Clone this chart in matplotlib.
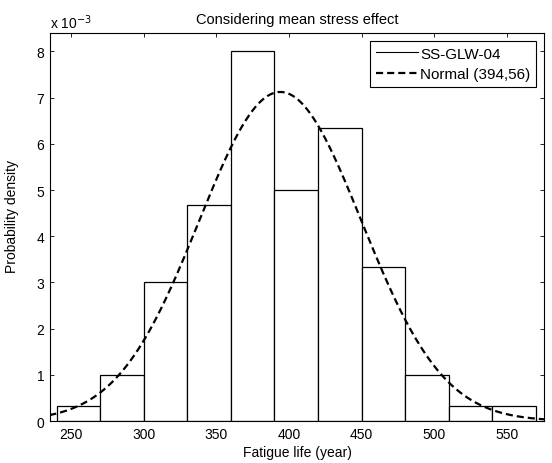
import numpy as np
import matplotlib

matplotlib.use("Agg")
import matplotlib.pyplot as plt
from matplotlib.lines import Line2D

plt.rcParams["font.family"] = ["Liberation Sans", "DejaVu Sans"]

# ---- data -------------------------------------------------------------------
bin_edges = [240, 270, 300, 330, 360, 390, 420, 450, 480, 510, 540, 570]
counts = [1, 3, 9, 14, 24, 15, 19, 10, 3, 1, 1]   # 100 samples
fit_mean = 394
fit_std = 56
x_ticks = [250, 300, 350, 400, 450, 500, 550]
y_ticks = [0, 1, 2, 3, 4, 5, 6, 7, 8]

edges = np.array(bin_edges, dtype=float)
widths = np.diff(edges)
n = sum(counts)
density = np.array(counts) / (n * widths) * 1e3   # shown in units of 1e-3

xs = np.linspace(235, 576, 400)
pdf = np.exp(-0.5 * ((xs - fit_mean) / fit_std) ** 2) / (fit_std * np.sqrt(2 * np.pi)) * 1e3

DASH = (0, (3.2, 1.8))

fig = plt.figure(figsize=(5.52, 4.64), dpi=100)
ax = fig.add_axes([0.0906, 0.0905, 0.8949, 0.8362])

ax.bar(edges[:-1], density, width=widths, align="edge", facecolor="white",
       edgecolor="black", linewidth=0.9, zorder=2)
ax.plot(xs, pdf, color="black", linestyle=DASH, linewidth=1.6, zorder=3)

ax.set_xlim(235.5, 575.5)
ax.set_ylim(0, 8.4)
ax.set_xticks(x_ticks)
ax.set_yticks(y_ticks)
ax.tick_params(direction="in", top=True, right=True, length=3, width=0.6,
               labelsize=10, pad=4)
for s in ax.spines.values():
    s.set_linewidth(0.8)

ax.set_xlabel("Fatigue life (year)", fontsize=10, labelpad=3)
ax.set_ylabel("Probability density", fontsize=10, labelpad=2)
ax.yaxis.set_label_coords(-0.062, 0.53)
ax.set_title("Considering mean stress effect", fontsize=10.5, pad=7)
ax.text(0.0, 1.004, r"x 10$^{-3}$", transform=ax.transAxes, ha="left", va="bottom",
        fontsize=10)

handles = [Line2D([], [], color="black", linewidth=0.8),
           Line2D([], [], color="black", linewidth=1.6, linestyle=DASH)]
leg = ax.legend(handles, ["SS-GLW-04", "Normal (394,56)"], loc="upper right",
                fontsize=11, frameon=True, fancybox=False, framealpha=1,
                edgecolor="black", handlelength=2.8, borderaxespad=0.5,
                handletextpad=0.1, labelspacing=0.4, borderpad=0.4)
leg.get_frame().set_linewidth(0.8)

fig.savefig("out.png", dpi=100, facecolor="white")
